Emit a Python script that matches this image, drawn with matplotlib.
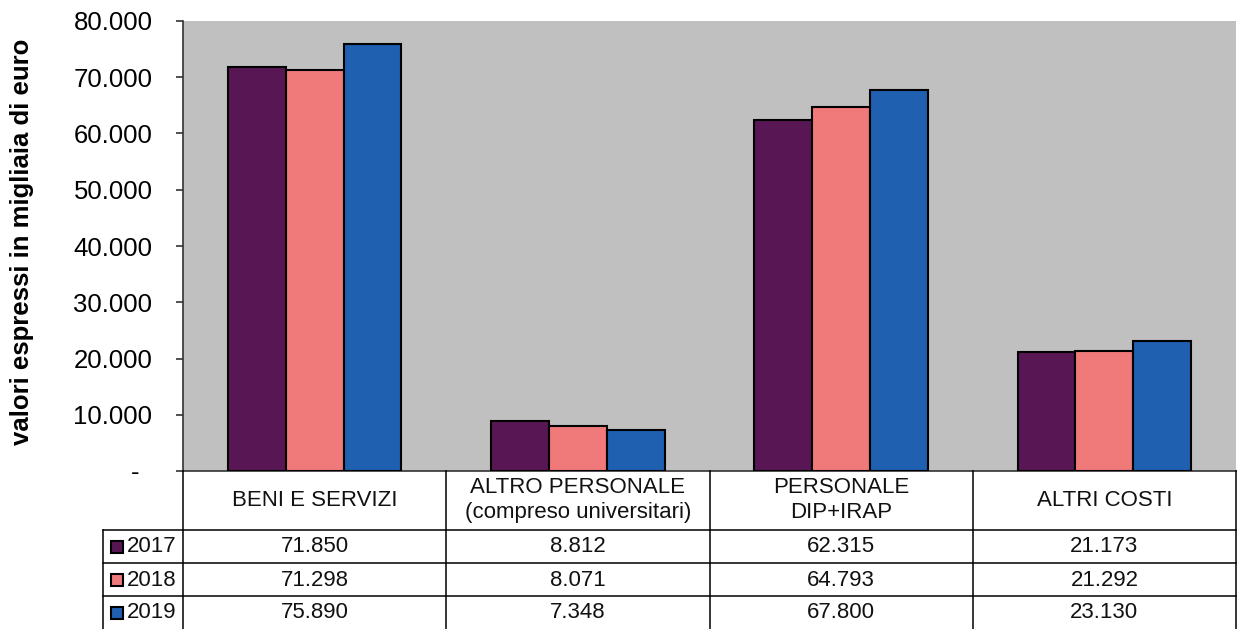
import numpy as np
import matplotlib
matplotlib.use('Agg')
import matplotlib.pyplot as plt
import matplotlib.transforms as mtransforms
from matplotlib.lines import Line2D

plt.rcParams['font.family'] = ['Liberation Sans', 'DejaVu Sans']

# Dati
categorie = ['BENI E SERVIZI', 'ALTRO PERSONALE\n(compreso universitari)',
             'PERSONALE\nDIP+IRAP', 'ALTRI COSTI']
anni = ['2017', '2018', '2019']
v2017 = [71850, 8812, 62315, 21173]
v2018 = [71298, 8071, 64793, 21292]
v2019 = [75890, 7348, 67800, 23130]
yticks = [0, 10000, 20000, 30000, 40000, 50000, 60000, 70000, 80000]
colori = ['#591654', '#F07A7A', '#1F60B0']


def fmt(v):
    return '-' if v == 0 else f'{v:,}'.replace(',', '.')


W, H = 1238, 629
L, R, T, B = 183, 1236, 21, 471
fig = plt.figure(figsize=(W / 100, H / 100), dpi=100)
ax = fig.add_axes([L / W, 1 - B / H, (R - L) / W, (B - T) / H])
ax.set_facecolor('#C0C0C0')

# Barre
x = np.arange(len(categorie))
w = 0.22
serie = [v2017, v2018, v2019]
for i, (vals, col) in enumerate(zip(serie, colori)):
    ax.bar(x + (i - 1) * w, vals, w, color=col, edgecolor='black',
           linewidth=1.5, zorder=3)

ax.set_xlim(-0.5, len(categorie) - 0.5)
ax.set_ylim(0, 80000)
ax.set_yticks(yticks)
ax.set_yticklabels([fmt(v) for v in yticks])
ax.tick_params(axis='y', length=5, width=1.2, pad=17, labelsize=18.5, color='#333333')
ax.tick_params(axis='x', bottom=False, labelbottom=False)
for s in ['top', 'right']:
    ax.spines[s].set_visible(False)
for s in ['left', 'bottom']:
    ax.spines[s].set_linewidth(1.2)
    ax.spines[s].set_color('#333333')

# il trattino dello zero e' spostato a sinistra
lbl0 = ax.get_yticklabels()[0]
lbl0.set_transform(lbl0.get_transform() +
                   mtransforms.ScaledTranslation(-0.13, 0, fig.dpi_scale_trans))

# Etichetta asse Y
fig.text(22 / W, 1 - 242 / H, 'valori espressi in migliaia di euro', rotation=90,
         fontsize=18.5, fontweight='bold', ha='center', va='center')

# Tabella dati
def fx(px):
    return px / W


def fy(py):
    return 1 - py / H


def linea(x0, x1, y0, y1):
    fig.add_artist(Line2D([fx(x0), fx(x1)], [fy(y0), fy(y1)], color='black',
                          linewidth=1.1, transform=fig.transFigure))


col_w = (R - L) / len(categorie)
for k in range(len(categorie) + 1):
    linea(L + k * col_w, L + k * col_w, B, H + 2)
linea(103, 103, 530, H + 2)
for yy in [530, 563, 596]:
    linea(103, R, yy, yy)

for k, cat in enumerate(categorie):
    fig.text(fx(L + (k + 0.5) * col_w), fy(500), cat, fontsize=16,
             ha='center', va='center', linespacing=1.25, color='#111111')

righe_y = [547, 580, 613]
for anno, vals, col, yy in zip(anni, serie, colori, righe_y):
    fig.add_artist(Line2D([fx(116.5)], [fy(yy)], marker='s', markersize=9,
                          markerfacecolor=col, markeredgecolor='black',
                          markeredgewidth=1.5, transform=fig.transFigure))
    fig.text(fx(127), fy(yy), anno, fontsize=16, ha='left', va='center',
             color='#111111')
    for k, v in enumerate(vals):
        fig.text(fx(L + (k + 0.5) * col_w), fy(yy), fmt(v), fontsize=16,
                 ha='center', va='center', color='#111111')

fig.savefig('out.png', dpi=100, facecolor='white')
